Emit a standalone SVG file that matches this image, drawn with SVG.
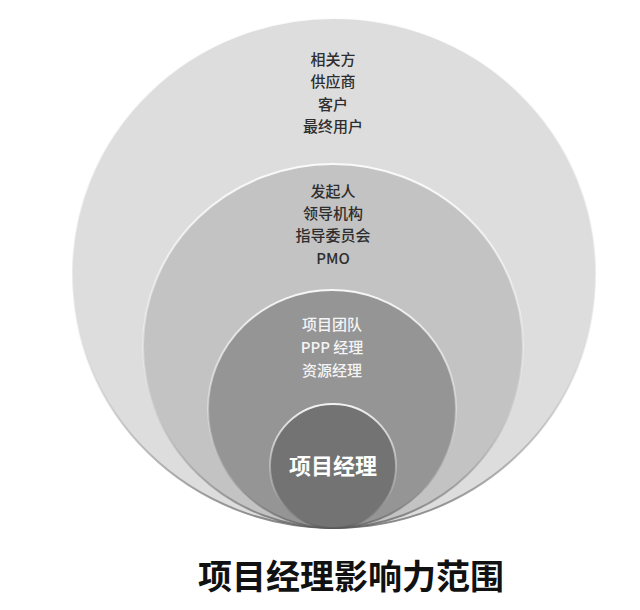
<svg xmlns="http://www.w3.org/2000/svg" width="640" height="610" viewBox="0 0 640 610">
  <defs>
    <linearGradient id="rim" x1="0" y1="0" x2="0" y2="1">
      <stop offset="0" stop-color="#ffffff" stop-opacity="0.9"/>
      <stop offset="0.55" stop-color="#ffffff" stop-opacity="0.3"/>
      <stop offset="0.85" stop-color="#888888" stop-opacity="0.5"/>
      <stop offset="1" stop-color="#555555" stop-opacity="0.7"/>
    </linearGradient>
    <style>
      .ring { stroke: url(#rim); stroke-width: 2; }
      .t { font-family: "Noto Sans CJK SC", "Noto Sans", sans-serif; text-anchor: middle; }
      .dark { fill: #2e2e2e; font-size: 15px; font-weight: 500; }
      .light { fill: #f4f4f4; font-size: 15px; font-weight: 500; }
      .core { fill: #ffffff; font-size: 22px; font-weight: 700; }
      .title { fill: #111111; font-size: 34px; font-weight: 700; }
    </style>
  </defs>
  <rect width="640" height="610" fill="#ffffff"/>

  <g id="stakeholders">
    <ellipse class="ring" cx="334" cy="273" rx="262" ry="255" fill="#dddddd"/>
    <text class="t dark" x="333" y="65">相关方</text>
    <text class="t dark" x="333" y="87">供应商</text>
    <text class="t dark" x="333" y="110">客户</text>
    <text class="t dark" x="333" y="132">最终用户</text>
  </g>

  <g id="sponsors">
    <ellipse class="ring" cx="333" cy="346" rx="190" ry="182" fill="#c3c3c3"/>
    <text class="t dark" x="333" y="197">发起人</text>
    <text class="t dark" x="333" y="219">领导机构</text>
    <text class="t dark" x="333" y="241">指导委员会</text>
    <text class="t dark" x="333" y="264">PMO</text>
  </g>

  <g id="team">
    <ellipse class="ring" cx="332" cy="409" rx="124" ry="119" fill="#959595"/>
    <text class="t light" x="332" y="330">项目团队</text>
    <text class="t light" x="332" y="353">PPP 经理</text>
    <text class="t light" x="332" y="376">资源经理</text>
  </g>

  <g id="pm">
    <ellipse class="ring" cx="333" cy="466" rx="63" ry="62" fill="#737373"/>
    <text class="t core" x="333" y="474">项目经理</text>
  </g>

  <g id="title">
    <text class="t title" x="351" y="589">项目经理影响力范围</text>
  </g>
</svg>
